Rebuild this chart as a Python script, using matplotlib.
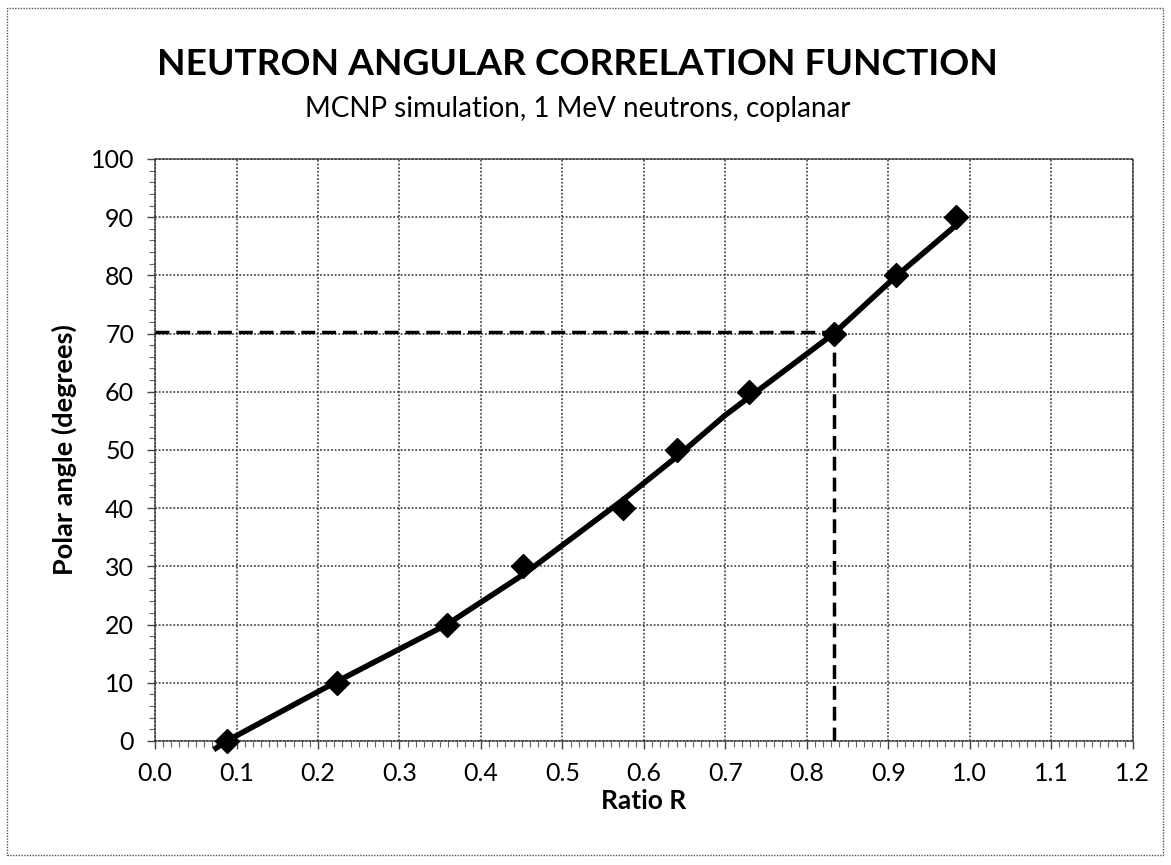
import matplotlib.pyplot as plt
from matplotlib.ticker import MultipleLocator
from matplotlib.patches import Rectangle

plt.rcParams['font.family'] = ['Lato', 'DejaVu Sans']

# simulated points (ratio R, polar angle)
ratio = [0.088, 0.223, 0.358, 0.452, 0.574, 0.640, 0.729, 0.833, 0.909, 0.983]
angle = [0, 10, 20, 30, 40, 50, 60, 70, 80, 90]

# fitted curve
fit_r = [0.072, 0.088, 0.223, 0.358, 0.452, 0.574, 0.640, 0.700, 0.833, 0.909, 0.988]
fit_a = [-1.5, 0.0, 10.2, 20.0, 28.6, 41.4, 48.8, 56.0, 70.0, 79.8, 89.2]

# readout example
r_read = 0.833
a_read = 70.3

fig = plt.figure(figsize=(11.71, 8.65), dpi=100)
ax = fig.add_axes([0.1324, 0.1434, 0.835, 0.6728])

ax.set_xlim(0, 1.2)
ax.set_ylim(0, 100)
ax.yaxis.set_major_locator(MultipleLocator(10))
ax.xaxis.set_minor_locator(MultipleLocator(0.01))
ax.yaxis.set_minor_locator(MultipleLocator(2))
ax.set_xticks([i / 10 for i in range(13)])
ax.set_xticklabels(['%.1f' % (i / 10) for i in range(13)])
ax.grid(True, which='major', color='#333333', linestyle=(0, (1.2, 1.2)), linewidth=1.1)
ax.set_axisbelow(True)
for s in ax.spines.values():
    s.set_linestyle((0, (1.2, 1.2)))
    s.set_color('#333333')
    s.set_linewidth(1.1)
ax.tick_params(which='major', length=6, width=1, color='#444444', labelsize=18, pad=9)
ax.tick_params(which='minor', length=4, width=0.8, color='#666666')
ax.tick_params(top=False, right=False)

ax.plot(fit_r, fit_a, color='black', linewidth=4, solid_capstyle='butt', clip_on=False, zorder=3)
ax.plot(ratio, angle, linestyle='none', marker='D', markersize=12, color='black', clip_on=False, zorder=4)
ax.plot([0, r_read], [a_read, a_read], color='black', linewidth=2.5, linestyle=(0, (4, 2)), zorder=3)
ax.plot([r_read, r_read], [0, a_read], color='black', linewidth=2.5, linestyle=(0, (4, 2)), zorder=3)

ax.set_xlabel('Ratio R', fontsize=19, fontweight='bold', labelpad=3)
ax.set_ylabel('Polar angle (degrees)', fontsize=19.5, fontweight='bold', labelpad=10)

fig.text(0.493, 0.926, 'NEUTRON ANGULAR CORRELATION FUNCTION', fontsize=26.7, fontweight='bold',
         ha='center', va='center')
fig.text(0.493, 0.874, 'MCNP simulation, 1 MeV neutrons, coplanar', fontsize=20,
         ha='center', va='center')

fig.patches.append(Rectangle((0.006, 0.011), 0.987, 0.98, transform=fig.transFigure, fill=False,
                             edgecolor='#555555', linestyle=(0, (1, 1)), linewidth=1))

fig.savefig('out.png', dpi=100)
